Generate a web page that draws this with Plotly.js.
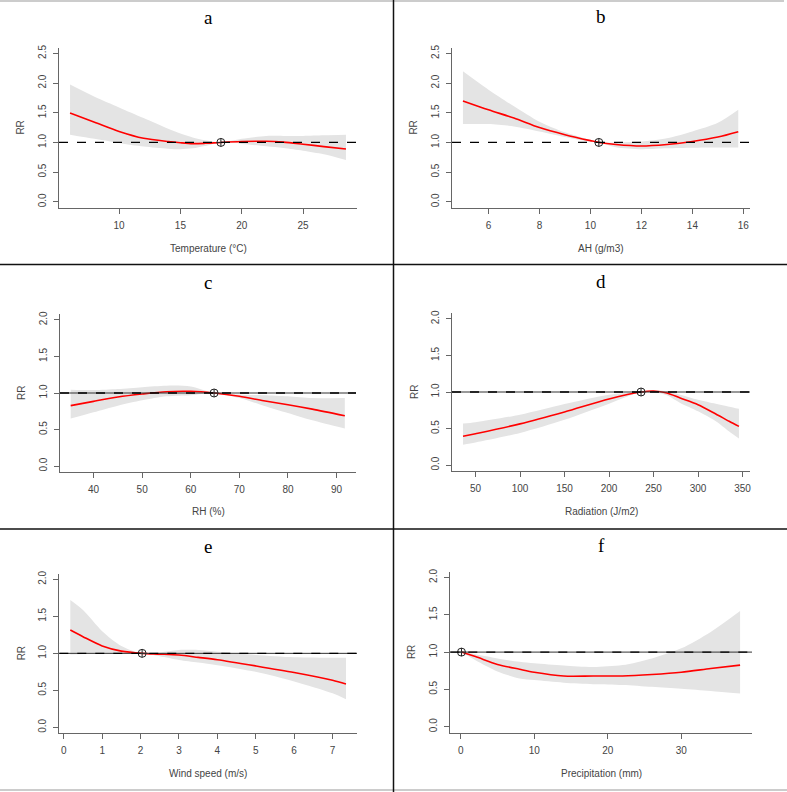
<!DOCTYPE html>
<html>
<head>
<meta charset="utf-8">
<script src="https://cdn.plot.ly/plotly-3.0.1.min.js"></script>
<style>html,body{margin:0;padding:0;background:#fff;}#chart{width:787px;height:792px;}</style>
</head>
<body>
<div id="chart"></div>
<script>
// ---- Data ----
const panelLetters = ["a", "b", "c", "d", "e", "f"];
const xTitles = ["Temperature (°C)", "AH (g/m3)", "RH (%)", "Radiation (J/m2)", "Wind speed (m/s)", "Precipitation (mm)"];
const yTitle = "RR";

// a: Temperature
const tempX  = [6, 8, 10, 12, 14, 15, 16, 17, 18.3, 20, 22, 23.4, 25, 26.7, 28.5];
const tempRR = [1.495, 1.34, 1.185, 1.07, 1.015, 0.995, 0.98, 0.985, 1.0, 1.015, 1.02, 1.005, 0.97, 0.93, 0.89];
const tempHi = [1.975, 1.77, 1.59, 1.41, 1.23, 1.15, 1.085, 1.035, 1.0, 1.06, 1.11, 1.11, 1.11, 1.12, 1.13];
const tempLo = [1.13, 1.06, 0.99, 0.93, 0.895, 0.885, 0.9, 0.94, 1.0, 0.975, 0.935, 0.905, 0.86, 0.8, 0.705];
const tempRef = 18.3;
const tempTicks = [10, 15, 20, 25];

// b: Absolute humidity
const ahX  = [5, 6, 7, 8, 9, 10, 10.33, 11, 12, 13, 14, 15, 15.8];
const ahRR = [1.70, 1.55, 1.41, 1.25, 1.13, 1.03, 1.0, 0.965, 0.94, 0.965, 1.015, 1.09, 1.18];
const ahHi = [2.20, 1.89, 1.61, 1.35, 1.17, 1.04, 1.0, 1.0, 1.015, 1.07, 1.185, 1.33, 1.55];
const ahLo = [1.31, 1.31, 1.27, 1.185, 1.09, 1.01, 1.0, 0.92, 0.886, 0.90, 0.91, 0.914, 0.914];
const ahRef = 10.33;
const ahTicks = [6, 8, 10, 12, 14, 16];

// c: Relative humidity
const rhX  = [35.3, 40, 45, 50, 55, 60, 64.8, 70, 75, 80, 85, 91.7];
const rhRR = [0.827, 0.886, 0.945, 0.986, 1.018, 1.023, 1.0, 0.955, 0.895, 0.84, 0.78, 0.69];
const rhHi = [1.045, 1.04, 1.055, 1.08, 1.10, 1.09, 1.0, 0.977, 0.97, 0.955, 0.93, 0.93];
const rhLo = [0.65, 0.736, 0.827, 0.9, 0.955, 0.97, 1.0, 0.93, 0.827, 0.727, 0.627, 0.514];
const rhRef = 64.8;
const rhTicks = [40, 50, 60, 70, 80, 90];

// d: Radiation
const radX  = [36, 50, 100, 150, 200, 236, 250, 265, 280, 300, 320, 335, 346];
const radRR = [0.395, 0.43, 0.564, 0.727, 0.905, 1.0, 1.014, 0.986, 0.918, 0.827, 0.70, 0.60, 0.53];
const radHi = [0.568, 0.586, 0.69, 0.836, 0.964, 1.0, 1.02, 1.01, 0.964, 0.895, 0.84, 0.80, 0.77];
const radLo = [0.28, 0.31, 0.44, 0.62, 0.84, 1.0, 1.0, 0.955, 0.85, 0.736, 0.60, 0.46, 0.364];
const radRef = 236;
const radTicks = [50, 100, 150, 200, 250, 300, 350];

// e: Wind speed
const windX  = [0.17, 0.5, 1, 1.5, 2.04, 2.5, 3, 3.5, 4, 5, 6, 7, 7.35];
const windRR = [1.315, 1.225, 1.10, 1.03, 1.0, 0.99, 0.977, 0.946, 0.914, 0.83, 0.74, 0.635, 0.586];
const windHi = [1.72, 1.585, 1.30, 1.10, 1.0, 1.013, 1.045, 1.045, 1.02, 0.977, 0.946, 0.94, 0.94];
const windLo = [0.985, 0.99, 0.995, 0.99, 1.0, 0.96, 0.91, 0.875, 0.84, 0.75, 0.62, 0.46, 0.38];
const windRef = 2.04;
const windTicks = [0, 1, 2, 3, 4, 5, 6, 7];

// f: Precipitation
const precX  = [0.1, 2, 5, 8, 10, 14, 18, 22, 26, 30, 34, 38];
const precRR = [1.0, 0.94, 0.835, 0.77, 0.73, 0.68, 0.68, 0.68, 0.70, 0.73, 0.78, 0.826];
const precHi = [1.0, 0.97, 0.915, 0.87, 0.85, 0.82, 0.80, 0.826, 0.915, 1.05, 1.27, 1.55];
const precLo = [1.0, 0.89, 0.74, 0.647, 0.625, 0.59, 0.57, 0.56, 0.535, 0.51, 0.48, 0.446];
const precRef = 0.1;
const precTicks = [0, 10, 20, 30];

const yTicksRow1 = [0, 0.5, 1, 1.5, 2, 2.5];
const yTicksRow23 = [0, 0.5, 1, 1.5, 2];

// ---- Layout geometry (pixels) ----
const W = 787, H = 792;
const px = v => v / W;
const py = v => 1 - v / H;

const panels = [
  {x: tempX, rr: tempRR, hi: tempHi, lo: tempLo, ref: tempRef, xt: tempTicks, yt: yTicksRow1,
   box: [59, 357, 47.5, 207.7], xr: [5.1, 29.4], yr: [-0.1, 2.6], title: [208, 18], xlab: 248, ylabX: 21},
  {x: ahX, rr: ahRR, hi: ahHi, lo: ahLo, ref: ahRef, xt: ahTicks, yt: yTicksRow1,
   box: [452, 750, 47.5, 207.7], xr: [4.57, 16.26], yr: [-0.1, 2.6], title: [601, 17], xlab: 248, ylabX: 414},
  {x: rhX, rr: rhRR, hi: rhHi, lo: rhLo, ref: rhRef, xt: rhTicks, yt: yTicksRow23,
   box: [60, 356, 314, 472], xr: [33.1, 94.0], yr: [-0.08, 2.08], title: [208, 283], xlab: 511, ylabX: 21},
  {x: radX, rr: radRR, hi: radHi, lo: radLo, ref: radRef, xt: radTicks, yt: yTicksRow23,
   box: [452, 750, 313, 471], xr: [23.6, 358.4], yr: [-0.08, 2.08], title: [601, 281], xlab: 511, ylabX: 414},
  {x: windX, rr: windRR, hi: windHi, lo: windLo, ref: windRef, xt: windTicks, yt: yTicksRow23,
   box: [59.3, 357, 573.5, 733.2], xr: [-0.117, 7.637], yr: [-0.08, 2.08], title: [208, 546], xlab: 773, ylabX: 21},
  {x: precX, rr: precRR, hi: precHi, lo: precLo, ref: precRef, xt: precTicks, yt: yTicksRow23,
   box: [450.3, 752, 571.5, 732.7], xr: [-1.42, 39.62], yr: [-0.08, 2.08], title: [601, 545], xlab: 773, ylabX: 411}
];

const tickFont = {family: "Liberation Sans, Arial, sans-serif", size: 10, color: "#444"};
const axisColor = "#666";
const traces = [];
const layout = {
  width: W, height: H,
  margin: {l: 0, r: 0, t: 0, b: 0},
  paper_bgcolor: "#fff", plot_bgcolor: "rgba(0,0,0,0)",
  showlegend: false,
  shapes: [], annotations: []
};

panels.forEach((p, i) => {
  const n = i + 1;
  const xa = n === 1 ? "x" : "x" + n;
  const ya = n === 1 ? "y" : "y" + n;
  const xKey = n === 1 ? "xaxis" : "xaxis" + n;
  const yKey = n === 1 ? "yaxis" : "yaxis" + n;

  traces.push({type: "scatter", mode: "lines", x: p.x, y: p.lo, xaxis: xa, yaxis: ya,
    line: {width: 0, shape: "spline", smoothing: 0.8}, hoverinfo: "skip"});
  traces.push({type: "scatter", mode: "lines", x: p.x, y: p.hi, xaxis: xa, yaxis: ya,
    line: {width: 0, shape: "spline", smoothing: 0.8}, fill: "tonexty", fillcolor: "#e4e4e4", hoverinfo: "skip"});
  traces.push({type: "scatter", mode: "lines", x: p.x, y: p.rr, xaxis: xa, yaxis: ya,
    line: {color: "#ff0000", width: 1.6, shape: "spline", smoothing: 0.8}});
  traces.push({type: "scatter", mode: "markers", x: [p.ref], y: [1], xaxis: xa, yaxis: ya,
    marker: {symbol: "circle-cross-open", size: 8, color: "#222", line: {width: 1, color: "#222"}}});

  layout[xKey] = {
    domain: [px(p.box[0]), px(p.box[1])], range: p.xr, anchor: ya,
    showgrid: false, zeroline: false, showline: true, linecolor: axisColor, linewidth: 1,
    ticks: "outside", ticklen: 5, tickcolor: axisColor, tickwidth: 1,
    tickvals: p.xt, ticktext: p.xt.map(String), tickfont: tickFont, ticklabelstandoff: 3,
    fixedrange: true
  };
  layout[yKey] = {
    domain: [py(p.box[3]), py(p.box[2])], range: p.yr, anchor: xa,
    showgrid: false, zeroline: false, showline: true, linecolor: axisColor, linewidth: 1,
    ticks: "outside", ticklen: 5, tickcolor: axisColor, tickwidth: 1,
    tickvals: p.yt, ticktext: p.yt.map(v => v.toFixed(1)), tickangle: -90, tickfont: tickFont,
    ticklabelstandoff: 3, fixedrange: true
  };

  // reference line RR = 1
  if (i >= 2) {
    layout.shapes.push({type: "line", xref: xa + " domain", yref: ya, x0: 0, x1: 1, y0: 1, y1: 1,
      line: {color: "#333", width: 1}});
  }
  layout.shapes.push({type: "line", xref: xa + " domain", yref: ya, x0: 0, x1: 1, y0: 1, y1: 1,
    line: {color: "#000", width: 1.3, dash: "dash"}});

  // panel title
  layout.annotations.push({text: panelLetters[i], xref: "paper", yref: "paper",
    x: px(p.title[0]), y: py(p.title[1]), xanchor: "center", yanchor: "middle", showarrow: false,
    font: {family: "Liberation Serif, Times New Roman, serif", size: 19, color: "#000"}});
  // x axis title
  layout.annotations.push({text: xTitles[i], xref: "paper", yref: "paper",
    x: px((p.box[0] + p.box[1]) / 2), y: py(p.xlab), xanchor: "center", yanchor: "middle", showarrow: false,
    font: {family: "Liberation Sans, Arial, sans-serif", size: 10, color: "#444"}});
  // y axis title
  layout.annotations.push({text: yTitle, xref: "paper", yref: "paper", textangle: -90,
    x: px(p.ylabX), y: py((p.box[2] + p.box[3]) / 2), xanchor: "center", yanchor: "middle", showarrow: false,
    font: {family: "Liberation Sans, Arial, sans-serif", size: 10, color: "#444"}});
});

// figure borders
layout.shapes.push({type: "line", xref: "paper", yref: "paper", x0: 0, x1: px(784), y0: py(1), y1: py(1),
  line: {color: "#cccccc", width: 2}});
layout.shapes.push({type: "line", xref: "paper", yref: "paper", x0: 0, x1: 1, y0: py(790), y1: py(790),
  line: {color: "#cccccc", width: 2}});
layout.shapes.push({type: "line", xref: "paper", yref: "paper", x0: px(393.5), x1: px(393.5), y0: 0, y1: 1,
  line: {color: "#111", width: 1.5}});
layout.shapes.push({type: "line", xref: "paper", yref: "paper", x0: 0, x1: 1, y0: py(264.5), y1: py(264.5),
  line: {color: "#111", width: 1.5}});
layout.shapes.push({type: "line", xref: "paper", yref: "paper", x0: 0, x1: 1, y0: py(529), y1: py(529),
  line: {color: "#111", width: 1.5}});

Plotly.newPlot("chart", traces, layout, {displayModeBar: false, staticPlot: true});
</script>
</body>
</html>
